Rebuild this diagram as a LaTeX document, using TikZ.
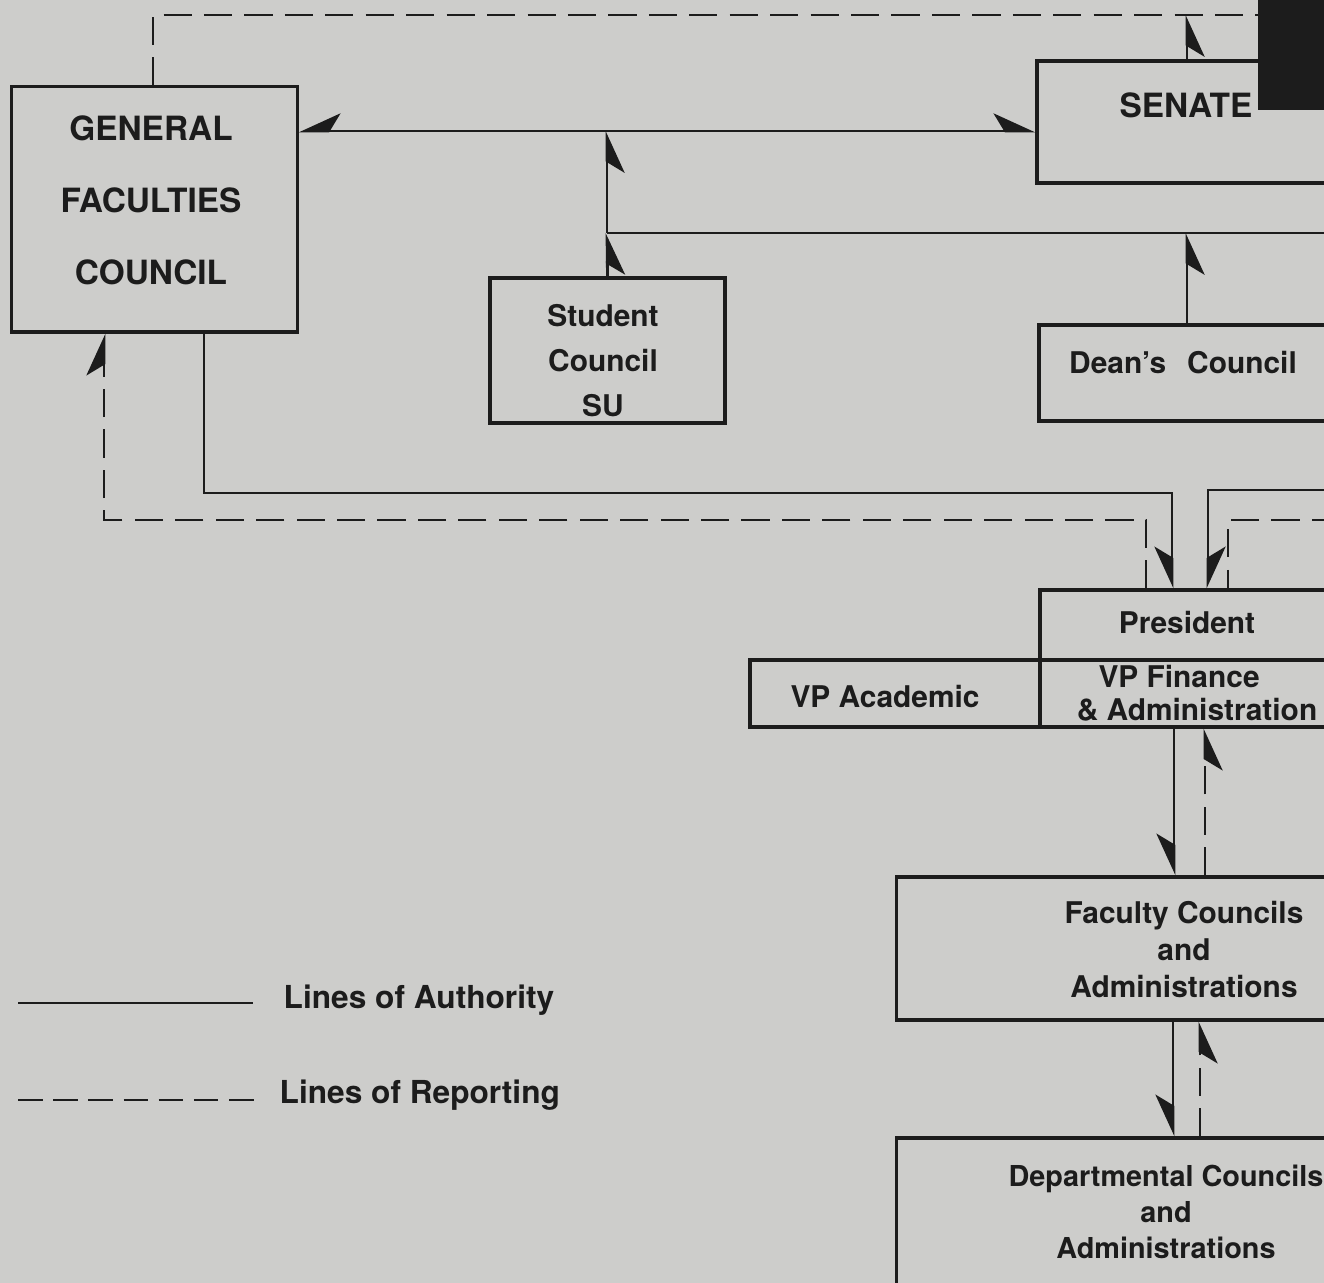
\documentclass[tikz,border=0pt]{standalone}
\usepackage{fontspec}
\setmainfont{TeX Gyre Heros}
\usepackage{tikz}
\usetikzlibrary{arrows.meta}
\definecolor{paper}{RGB}{205,205,203}
\definecolor{ink}{RGB}{28,28,28}

\begin{document}
\begin{tikzpicture}[x=0.01cm, y=-0.01cm,
			every node/.style = {text=ink, font=\bfseries\fontsize{8.5}{12}\selectfont},
			box/.style = {shape=rectangle, draw=ink, line width=0.9pt, inner sep=0pt},
			auth/.style = {draw=ink, line width=0.8pt},
			rep/.style = {auth, dash pattern=on 8pt off 3.5pt},
			tipl/.style = {-{Stealth[harpoon, length=11pt, width=10pt, inset=3pt]}},
			tipr/.style = {-{Stealth[harpoon, swap, length=11pt, width=10pt, inset=3pt]}}]
			\path[use as bounding box, fill=paper] (0,0) rectangle (1324,1283);
			\clip (0,0) rectangle (1324,1283);

			\node[box, minimum width=2.85cm, minimum height=2.45cm] (gfc) at (154.5,209.5) {};
			\node[box, minimum width=3.00cm, minimum height=1.22cm] (senate) at (1187,122) {};
			\node[box, minimum width=2.35cm, minimum height=1.45cm] (student) at (607.5,350.5) {};
			\node[box, minimum width=2.96cm, minimum height=0.96cm] (deans) at (1187,373) {};
			\node[box, minimum width=2.94cm, minimum height=0.70cm] (pres) at (1187,625) {};
			\node[box, minimum width=2.90cm, minimum height=0.67cm] (vpa) at (895,693.5) {};
			\node[box, minimum width=2.94cm, minimum height=0.67cm] (vpf) at (1187,693.5) {};
			\node[box, minimum width=4.48cm, minimum height=1.43cm] (fac) at (1121,948.5) {};
			\node[box, minimum width=4.48cm, minimum height=1.62cm] (dept) at (1121,1219) {};

			\node[align=center, font=\bfseries\fontsize{9.5}{20.5}\selectfont] (gfct) at (151,200) {GENERAL\\FACULTIES\\COUNCIL};
			\node[font=\bfseries\fontsize{9.5}{12}\selectfont] (senatet) at (1186,105) {SENATE};
			\node[align=center, font=\bfseries\fontsize{8.5}{12.8}\selectfont] (studentt) at (603,361) {Student\\Council\\SU};
			\node (deanst) at (1183,363) {Dean's\hspace{0.7em}Council};
			\node (prest) at (1187,623) {President};
			\node (vpat) at (885,697) {VP Academic};
			\node[align=center, font=\bfseries\fontsize{8.5}{9.4}\selectfont] (vpft) at (1197,693.5) {VP Finance\hspace*{1.2em}\\\& Administration};
			\node[align=center, font=\bfseries\fontsize{8.5}{10.4}\selectfont] (fact) at (1184,949.5) {Faculty Councils\\and\\Administrations};
			\node[align=center, font=\bfseries\fontsize{8.2}{10.2}\selectfont] (deptt) at (1166,1212) {Departmental Councils\\and\\Administrations};

			\coordinate (tl) at (153,15);
			\coordinate (tr) at (1340,15);
			\draw[rep] (tl |- gfc.north) -- (tl) -- (tr);
			\draw[auth, tipr] (senate.north) -- (senate.north |- tl);

			\coordinate (j1) at (607,131);
			\coordinate (j2) at (607,233);
			\coordinate (j3) at (1340,233);
			\draw[auth, tipr] (j1) -- (j1 -| gfc.east);
			\draw[auth, tipl] (j1) -- (j1 -| senate.west);
			\draw[auth, tipr] (j2) -- (j1);
			\draw[auth, tipr] (student.north) -- (j2);
			\draw[auth] (j2) -- (j3);
			\draw[auth, tipr] (deans.north) -- (deans.north |- j2);

			\coordinate (a1) at (204,493);
			\coordinate (a2) at (1172,493);
			\draw[auth, tipr] (a1 |- gfc.south) -- (a1) -- (a2) -- (a2 |- pres.north);
			\coordinate (r1) at (104,520);
			\coordinate (r2) at (1146,520);
			\draw[rep, tipl] (r2 |- pres.north) -- (r2) -- (r1) -- (r1 |- gfc.south);
			\coordinate (a3) at (1208,490);
			\coordinate (a4) at (1340,490);
			\draw[auth, tipl] (a4) -- (a3) -- (a3 |- pres.north);
			\coordinate (r3) at (1228,520);
			\coordinate (r4) at (1340,520);
			\draw[rep] (r4) -- (r3) -- (r3 |- pres.north);

			\coordinate (c1) at (1174,800);
			\coordinate (c2) at (1205,800);
			\draw[auth, tipr] (c1 |- vpf.south) -- (c1 |- fac.north);
			\draw[rep, tipr] (c2 |- fac.north) -- (c2 |- vpf.south);
			\coordinate (c3) at (1173,1080);
			\coordinate (c4) at (1200,1080);
			\draw[auth, tipr] (c3 |- fac.south) -- (c3 |- dept.north);
			\draw[rep, tipr] (c4 |- dept.north) -- (c4 |- fac.south);

			\fill[ink] (1258,0) rectangle (1324,110);

			\coordinate (la) at (18,1003);
			\coordinate (lb) at (253,1003);
			\draw[ink, line width=0.6pt] (la) -- (lb);
			\node[anchor=west, inner sep=0pt, font=\bfseries\fontsize{9}{12}\selectfont] (lat) at (283,1000) {Lines of Authority};
			\coordinate (lc) at (18,1100);
			\coordinate (ld) at (258,1100);
			\draw[ink, line width=0.6pt, dash pattern=on 7pt off 3pt] (lc) -- (ld);
			\node[anchor=west, inner sep=0pt, font=\bfseries\fontsize{9}{12}\selectfont] (lrt) at (279,1095) {Lines of Reporting};
		\end{tikzpicture}
\end{document}
